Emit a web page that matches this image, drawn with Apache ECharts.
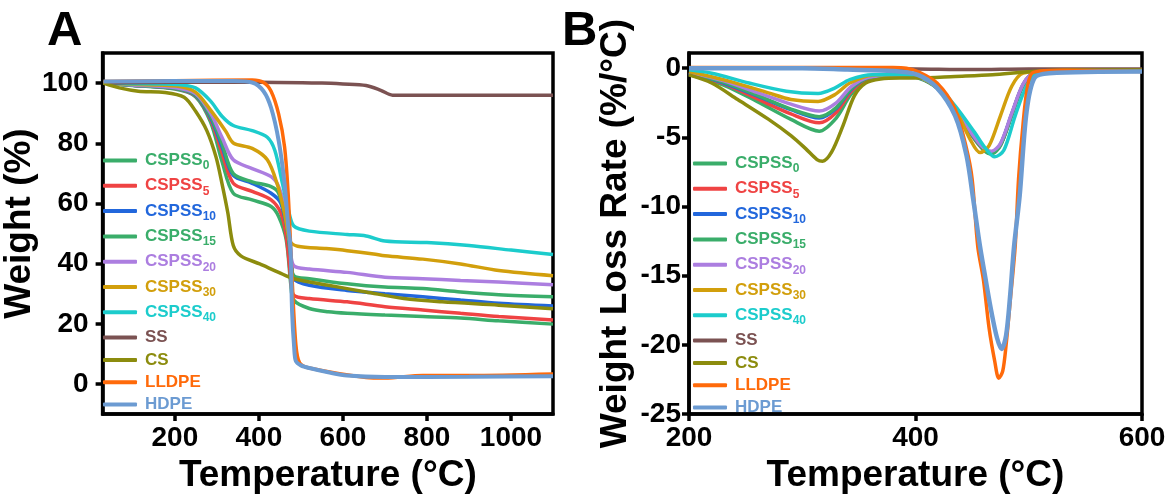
<!DOCTYPE html>
<html>
<head>
<meta charset="utf-8">
<script src="https://cdn.jsdelivr.net/npm/echarts@6/dist/echarts.min.js"></script>
<style>
html, body { margin: 0; padding: 0; background: #fff; }
#main { width: 1170px; height: 499px; }
</style>
</head>
<body>
<div id="main"></div>
<script>
// legend order / colours
const names = ['CSPSS0', 'CSPSS5', 'CSPSS10', 'CSPSS15', 'CSPSS20', 'CSPSS30', 'CSPSS40', 'SS', 'CS', 'LLDPE', 'HDPE'];
const colors = ['#3aad6a', '#ef4343', '#2267dc', '#3aad6a', '#ac7ee0', '#d29f0c', '#1ccccc', '#7b5252', '#8c8c0e', '#ff6a0a', '#6c9bd2'];

// panel A : TGA, [temperature, weight %]
const tgaCSPSS0 = [[30,100],[100,99.2],[200,98],[249,95.5],[285,87],[312,74],[339,63.4],[384,61.2],[429,59],[447,55.7],[465,48],[476,33],[483,27.9],[520,25.1],[565,24],[610,23.5],[700,22.9],[790,22.4],[880,21.9],[971,21],[1100,19.9]];
const tgaCSPSS5 = [[30,100],[100,99.3],[200,98.2],[249,95.8],[285,88],[312,77],[339,66.7],[384,64],[429,61.2],[452,56.9],[465,49.2],[476,35],[483,29.5],[520,28.4],[610,27.3],[700,25.7],[790,24.6],[880,23.5],[971,22.4],[1100,21.3]];
const tgaCSPSS10 = [[30,100],[100,99.3],[200,98.3],[249,96],[285,88.5],[312,79],[339,69.3],[384,66.7],[429,63.4],[452,60.1],[470,49.2],[478,40],[483,35],[520,32.8],[610,31.1],[700,30],[790,29],[880,27.9],[971,26.8],[1100,25.9]];
const tgaCSPSS15 = [[30,100],[100,99.3],[200,98.3],[249,96.2],[285,89],[312,80],[339,69.9],[384,67.2],[429,65.6],[447,63.4],[465,53.6],[476,42],[483,36],[520,35],[610,33.3],[700,32.2],[790,31.7],[880,30.6],[971,29.7],[1100,29]];
const tgaCSPSS20 = [[30,100],[100,99.4],[200,98.5],[249,96.5],[285,90],[312,82],[339,74.5],[384,71.6],[429,68.9],[447,65.6],[465,56.9],[475,45],[483,39.3],[520,38.2],[610,37.1],[700,35.5],[790,35],[880,34.4],[971,33.9],[1100,33]];
const tgaCSPSS30 = [[30,100],[100,99.6],[204,99],[249,97],[285,91],[321,84],[339,80.1],[384,78.3],[420,74.5],[443,66.7],[461,56.9],[474,47.5],[492,45.8],[560,45],[610,44.3],[673,43.2],[700,42.6],[790,41.5],[880,39.9],[971,37.7],[1100,36]];
const tgaCSPSS40 = [[30,100],[100,99.8],[204,99.5],[249,98.4],[285,94],[312,89],[339,85.9],[384,84.2],[420,82],[438,77.6],[456,66.7],[470,58],[483,52.5],[520,50.8],[610,49.7],[655,49.2],[700,47.5],[800,47],[900,46],[1000,44.5],[1100,43]];
const tgaSS = [[30,100],[200,100.3],[400,100.3],[550,100],[600,99.7],[655,99.2],[690,97.6],[718,96],[800,96],[1000,96],[1100,96]];
const tgaCS = [[30,100],[68,98.4],[113,97.3],[176,96.9],[222,95.3],[249,90.7],[276,84.2],[298,75.4],[312,66.7],[326,56.9],[339,46],[357,42.6],[402,39.9],[447,37.1],[483,35],[565,32.8],[655,30.6],[745,28.4],[836,27.3],[971,26.2],[1100,25]];
const tgaLLDPE = [[30,100.5],[200,100.8],[384,101],[411,100.2],[429,97.3],[447,89.7],[461,78.9],[470,62.3],[479,35],[488,13],[497,7],[520,5.3],[655,2.2],[700,2],[790,2.8],[900,2.8],[1100,3.3]];
const tgaHDPE = [[30,100.5],[200,100.7],[339,100.7],[384,100.2],[411,97.3],[429,91.8],[447,80.9],[461,66.7],[470,52],[475,45.9],[479,24],[484,12],[488,7.6],[500,6.2],[520,5.3],[565,3.9],[610,2.8],[700,2.3],[900,2.4],[1100,2.6]];

// panel B : DTG, [temperature, weight loss rate %/°C]
const dtgCSPSS0 = [[200,-0.45],[230,-1.2],[260,-2.4],[290,-3.7],[315,-4.55],[330,-3.6],[343,-1.9],[358,-0.8],[386,-0.55],[402,-0.7],[419,-1.45],[435,-3],[450,-4.9],[460,-5.9],[467,-6.2],[475,-5.6],[485,-3.4],[495,-1.25],[505,-0.35],[530,-0.2],[600,-0.2]];
const dtgCSPSS5 = [[200,-0.4],[230,-1.1],[260,-2.2],[290,-3.3],[315,-3.95],[330,-3.2],[343,-1.7],[358,-0.75],[386,-0.5],[402,-0.65],[419,-1.4],[435,-2.95],[450,-4.85],[460,-5.85],[467,-6.1],[475,-5.55],[485,-3.35],[495,-1.2],[505,-0.35],[530,-0.2],[600,-0.2]];
const dtgCSPSS10 = [[200,-0.35],[230,-1.05],[260,-2],[290,-3],[315,-3.6],[330,-2.9],[343,-1.55],[358,-0.7],[386,-0.5],[402,-0.65],[419,-1.4],[435,-2.9],[450,-4.8],[460,-5.8],[467,-6.05],[475,-5.5],[485,-3.3],[495,-1.2],[505,-0.35],[530,-0.2],[600,-0.2]];
const dtgCSPSS15 = [[200,-0.35],[230,-1],[260,-1.95],[290,-2.95],[315,-3.5],[330,-2.85],[343,-1.5],[358,-0.7],[386,-0.5],[402,-0.65],[419,-1.4],[435,-2.9],[450,-4.8],[460,-5.85],[467,-6.15],[475,-5.55],[485,-3.35],[495,-1.2],[505,-0.35],[530,-0.2],[600,-0.2]];
const dtgCSPSS20 = [[200,-0.3],[230,-0.9],[260,-1.75],[290,-2.6],[315,-3.1],[330,-2.5],[343,-1.35],[358,-0.65],[386,-0.5],[402,-0.62],[419,-1.35],[435,-2.85],[450,-4.75],[460,-5.75],[467,-6],[475,-5.45],[485,-3.25],[495,-1.15],[505,-0.35],[530,-0.2],[600,-0.2]];
const dtgCSPSS30 = [[200,-0.24],[236,-0.95],[270,-1.78],[290,-2.26],[314,-2.4],[329,-1.9],[342,-1.07],[362,-0.5],[386,-0.48],[402,-0.6],[419,-1.42],[435,-2.96],[448,-5.1],[457,-6.1],[465,-5.6],[475,-3.44],[485,-1.3],[495,-0.36],[518,-0.2],[600,-0.2]];
const dtgCSPSS40 = [[200,-0.12],[220,-0.36],[253,-1.07],[286,-1.66],[314,-1.82],[329,-1.42],[342,-0.83],[362,-0.48],[386,-0.48],[402,-0.6],[419,-1.3],[435,-2.72],[452,-4.62],[462,-5.81],[470,-6.4],[478,-5.93],[488,-3.44],[498,-1.3],[508,-0.36],[535,-0.17],[600,-0.2]];
const dtgSS = [[200,0],[300,0],[400,-0.05],[450,-0.1],[500,-0.05],[600,-0.05]];
const dtgCS = [[200,-0.48],[220,-1.07],[243,-2.26],[270,-3.68],[290,-4.87],[303,-5.81],[313,-6.6],[318,-6.72],[326,-6.05],[336,-4.15],[346,-2],[356,-1.07],[369,-0.78],[386,-0.71],[402,-0.71],[435,-0.6],[468,-0.48],[500,-0.25],[535,-0.13],[600,-0.12]];
const dtgLLDPE = [[200,0.05],[300,0.05],[380,0.05],[392,0],[402,-0.24],[419,-1.07],[435,-2.96],[445,-5.8],[450,-8],[455,-12.9],[460,-15.3],[465,-18.8],[470,-21.2],[473.5,-22.4],[477,-21.9],[480,-20],[484,-16.5],[488,-12.9],[491,-8],[495,-4],[499,-1.3],[504,-0.3],[530,-0.15],[600,-0.24]];
const dtgHDPE = [[200,0],[300,0],[340,-0.1],[380,-0.2],[402,-0.48],[419,-1.42],[435,-3.44],[445,-6.3],[451,-9.5],[457,-12.9],[462,-15.3],[467,-17.6],[472,-19.5],[476,-20.3],[480,-19.3],[483.5,-16.5],[487,-12.9],[492,-9.2],[498,-3.2],[505,-0.71],[518,-0.36],[600,-0.24]];

const tgaData = [tgaCSPSS0, tgaCSPSS5, tgaCSPSS10, tgaCSPSS15, tgaCSPSS20, tgaCSPSS30, tgaCSPSS40, tgaSS, tgaCS, tgaLLDPE, tgaHDPE];
const dtgData = [dtgCSPSS0, dtgCSPSS5, dtgCSPSS10, dtgCSPSS15, dtgCSPSS20, dtgCSPSS30, dtgCSPSS40, dtgSS, dtgCS, dtgLLDPE, dtgHDPE];

const tgaYTicks = [0, 20, 40, 60, 80, 100];
const tgaXTicks = [200, 400, 600, 800, 1000];
const dtgYTicks = [-25, -20, -15, -10, -5, 0];

const font = '"Liberation Sans", Arial, sans-serif';

function axisBase(extra) {
  return Object.assign({
    axisLine: { show: true, onZero: false, lineStyle: { color: '#000', width: 3.5 } },
    splitLine: { show: false },
    nameLocation: 'middle',
    nameTextStyle: { color: '#000', fontSize: 37, fontWeight: 'bold', fontFamily: font }
  }, extra);
}

function tick(values) {
  return { show: true, length: 7, customValues: values, lineStyle: { color: '#000', width: 3.5 } };
}

function label(margin, values) {
  return {
    margin: margin, customValues: values, color: '#000', fontSize: 28, fontWeight: 'bold', fontFamily: font,
    formatter: v => String(v)
  };
}

function legendFormatter(name) {
  const m = name.match(/^(CSPSS)(\d+)$/);
  return m ? '{a|CSPSS}{s|' + m[2] + '}' : '{p|' + name + '}';
}

function makeLegend(left, top) {
  return {
    left: left, top: top, orient: 'vertical', padding: 0,
    itemWidth: 34, itemHeight: 4, itemGap: 5.3,
    icon: 'roundRect',
    data: names.map((n, i) => ({ name: n, textStyle: { color: colors[i] } })),
    formatter: legendFormatter,
    textStyle: {
      fontFamily: font, fontWeight: 'bold',
      rich: {
        a: { fontSize: 17, lineHeight: 23, fontWeight: 'bold', fontFamily: font, verticalAlign: 'middle', padding: [0, 0, 0, 3] },
        s: { fontSize: 12, lineHeight: 12, fontWeight: 'bold', fontFamily: font, verticalAlign: 'bottom' },
        p: { fontSize: 17, lineHeight: 18, fontWeight: 'bold', fontFamily: font, verticalAlign: 'middle', padding: [0, 0, 0, 3] }
      }
    }
  };
}

const series = [];
names.forEach((n, i) => {
  series.push({
    name: n, type: 'line', xAxisIndex: 0, yAxisIndex: 0,
    data: tgaData[i], showSymbol: false, smooth: 0.3,
    lineStyle: { color: colors[i], width: n === 'HDPE' ? 4 : 3.5 },
    itemStyle: { color: colors[i] }
  });
});
names.forEach((n, i) => {
  series.push({
    name: n, type: 'line', xAxisIndex: 1, yAxisIndex: 1,
    data: dtgData[i], showSymbol: false, smooth: 0.3,
    lineStyle: { color: colors[i], width: n === 'HDPE' ? 4.5 : 3.5 },
    itemStyle: { color: colors[i] }
  });
});

const option = {
  backgroundColor: '#fff',
  animation: false,
  title: [
    { text: 'A', left: 47, top: 7, padding: 0, textStyle: { fontSize: 49, fontWeight: 'bold', fontFamily: font, color: '#000' } },
    { text: 'B', left: 562, top: 7, padding: 0, textStyle: { fontSize: 49, fontWeight: 'bold', fontFamily: font, color: '#000' } }
  ],
  grid: [
    { left: 99, top: 53, width: 454, height: 368, show: true, borderColor: '#000', borderWidth: 3.5 },
    { left: 689, top: 53, width: 453, height: 367, show: true, borderColor: '#000', borderWidth: 3.5 }
  ],
  xAxis: [
    axisBase({
      gridIndex: 0, type: 'value', min: 28, max: 1100,
      name: 'Temperature (°C)', nameGap: 40,
      axisTick: tick(tgaXTicks),
      axisLabel: label(10, tgaXTicks)
    }),
    axisBase({
      gridIndex: 1, type: 'value', min: 200, max: 600, interval: 200,
      name: 'Temperature (°C)', nameGap: 40,
      axisTick: tick([200, 400, 600]),
      axisLabel: label(10, [200, 400, 600])
    })
  ],
  yAxis: [
    axisBase({
      gridIndex: 0, type: 'value', min: -10, max: 110,
      name: 'Weight (%)', nameGap: 52,
      nameTextStyle: { color: '#000', fontSize: 37, fontWeight: 'bold', fontFamily: font, padding: [0, 0, 0, 20] },
      axisTick: tick(tgaYTicks),
      axisLabel: label(14, tgaYTicks)
    }),
    axisBase({
      gridIndex: 1, type: 'value', min: -25, max: 1.1,
      name: 'Weight Loss Rate (%/°C)', nameGap: 55,
      axisTick: tick(dtgYTicks),
      axisLabel: label(8, dtgYTicks)
    })
  ],
  legend: [makeLegend(103, 152), makeLegend(693, 155)],
  series: series
};

const myChart = echarts.init(document.getElementById('main'), null, { renderer: 'canvas' });
myChart.setOption(option);
</script>
</body>
</html>
